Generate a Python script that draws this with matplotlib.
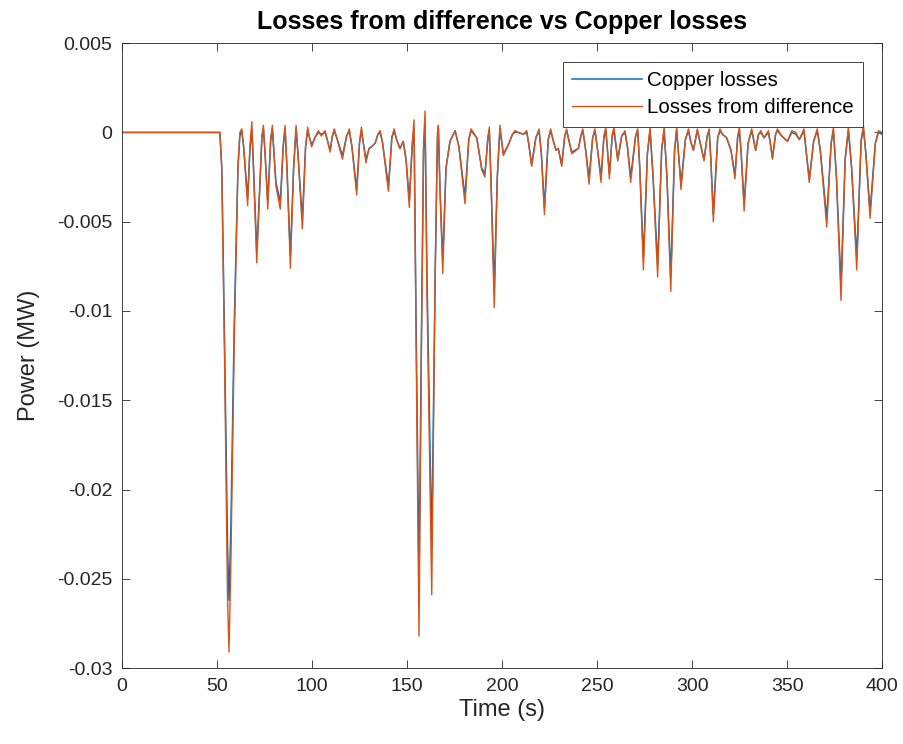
import matplotlib
matplotlib.use("Agg")
import matplotlib.pyplot as plt

plt.rcParams["font.family"] = ["Liberation Sans", "DejaVu Sans"]

# values (time in s, power in MW)
t = [0, 51.5, 52.5, 54.0, 55.5, 56.3,
     57.3, 59.0, 61.0, 62.0, 63.0, 64.0,
     66.1, 67.3, 68.3, 69.2, 70.9, 72.5,
     73.6, 74.4, 75.3, 76.7, 78.2, 79.1,
     80.0, 81.0, 83.3, 84.8, 85.8, 86.8,
     88.6, 90.3, 91.6, 92.6, 94.9, 96.6,
     97.7, 98.7, 99.8, 101.5, 103.3, 104.9,
     106.8, 108.0, 109.5, 110.7, 111.7, 113.0,
     116.0, 118.2, 119.6, 121.0, 123.5, 125.0,
     126.0, 127.0, 128.4, 130.0, 131.4, 133.2,
     134.7, 135.8, 137.0, 140.2, 142.0, 143.2,
     144.5, 146.3, 148.0, 149.5, 151.2, 152.7,
     153.7, 154.7, 156.3, 157.5, 158.7, 159.5,
     160.5, 163.0, 164.8, 166.0, 166.5, 167.3,
     168.8, 170.5, 172.6, 175.3, 177.3, 180.5,
     182.5, 183.7, 186.7, 189.3, 191.0, 192.5,
     193.3, 194.3, 195.9, 197.5, 198.9, 200.7,
     203.3, 205.5, 206.8, 208.5, 211.2, 213.0,
     214.0, 215.6, 217.8, 219.5, 220.7, 222.3,
     224.3, 225.6, 226.8, 228.4, 229.6, 231.4,
     233.0, 234.0, 235.3, 236.7, 240.2, 241.5,
     242.5, 243.8, 245.8, 247.7, 248.9, 250.3,
     252.1, 253.6, 254.6, 255.5, 256.5, 258.0,
     258.9, 260.9, 263.0, 264.7, 266.0, 267.7,
     270.3, 271.4, 272.5, 274.4, 276.5, 277.9,
     279.5, 281.9, 284.0, 285.3, 286.8, 288.8,
     290.8, 291.9, 292.9, 294.2, 296.5, 298.1,
     299.3, 300.7, 302.8, 304.3, 306.3, 308.0,
     309.0, 309.9, 311.2, 313.5, 314.7, 316.0,
     318.2, 320.5, 322.6, 324.0, 324.9, 325.9,
     327.4, 329.5, 331.4, 333.5, 335.0, 336.2,
     337.9, 340.2, 341.2, 342.3, 344.0, 344.9,
     347.2, 350.2, 352.5, 354.6, 356.5, 358.9,
     360.0, 361.7, 364.0, 365.9, 367.5, 370.9,
     373.2, 374.4, 376.0, 378.4, 380.6, 382.3,
     384.0, 386.7, 389.0, 390.2, 391.5, 393.7,
     396.5, 398.1, 400.0]

copper = [0, 0, -0.002, -0.012, -0.023, -0.0262,
          -0.022, -0.011, -0.002, -0.0002, 0.0001, -0.0008,
          -0.0037, -0.0010, 0.0002, -0.0020, -0.0067, -0.0030,
          -0.0003, 0.0002, -0.0012, -0.0039, -0.0005, 0.0002,
          -0.0012, -0.0028, -0.0039, -0.0008, 0.0002, -0.0020,
          -0.0069, -0.0020, 0.0002, -0.0012, -0.0049, -0.0008,
          0.0001, -0.0003, -0.0007, -0.0003, 0.0, -0.0001,
          0.0, -0.0004, -0.0010, -0.0002, 0.0001, -0.0003,
          -0.0013, -0.0002, 0.0001, -0.0008, -0.0032, -0.0006,
          0.0001, -0.0006, -0.0015, -0.0009, -0.0008, -0.0006,
          -0.0001, 0.0, -0.0005, -0.0030, -0.0003, 0.0001,
          -0.0004, -0.0009, -0.0005, -0.0015, -0.0038, -0.0008,
          0.0002, -0.010, -0.0252, -0.012, -0.0010, 0.0004,
          -0.008, -0.0232, -0.008, -0.0004, 0.0002, -0.0030,
          -0.0072, -0.0020, -0.0005, 0.0001, -0.0008, -0.0036,
          -0.0004, 0.0001, -0.0003, -0.0020, -0.0023, -0.0004,
          0.0001, -0.0030, -0.0088, -0.0025, 0.0002, -0.0012,
          -0.0007, -0.0001, 0.0, 0.0, -0.0001, 0.0,
          -0.0006, -0.0018, -0.0003, 0.0001, -0.0012, -0.0042,
          -0.0004, 0.0001, -0.0004, -0.0010, -0.0009, -0.0018,
          -0.0002, 0.0001, -0.0005, -0.0011, -0.0009, -0.0002,
          0.0001, -0.0008, -0.0026, -0.0003, 0.0001, -0.0010,
          -0.0025, -0.0003, 0.0001, -0.0010, -0.0023, -0.0002,
          0.0001, -0.0015, -0.0002, 0.0, -0.0008, -0.0025,
          -0.0002, 0.0001, -0.0020, -0.0070, -0.0012, 0.0001,
          -0.0025, -0.0074, -0.0010, 0.0001, -0.0025, -0.0081,
          -0.0010, 0.0001, -0.0012, -0.0029, -0.0004, 0.0001,
          -0.0005, -0.0010, 0.0001, -0.0006, -0.0015, -0.0002,
          0.0001, -0.0015, -0.0046, -0.0003, 0.0001, -0.0001,
          -0.0003, -0.0010, -0.0024, -0.0003, 0.0001, -0.0012,
          -0.0040, -0.0006, 0.0001, -0.0010, -0.0001, 0.0,
          -0.0003, 0.0, -0.0006, -0.0014, -0.0001, 0.0001,
          -0.0002, -0.0005, 0.0, -0.0001, -0.0004, 0.0001,
          -0.0010, -0.0026, -0.0005, 0.0001, -0.0010, -0.0048,
          -0.0006, 0.0001, -0.0025, -0.0085, -0.0015, 0.0001,
          -0.0020, -0.0070, -0.0005, 0.0002, -0.0012, -0.0044,
          -0.0006, 0.0, -0.0001]

difference = [0, 0, -0.002, -0.013, -0.026, -0.0291,
              -0.024, -0.012, -0.002, 0.0, 0.0002, -0.0008,
              -0.0041, -0.0008, 0.0006, -0.0020, -0.0073, -0.0030,
              -0.0002, 0.0004, -0.0012, -0.0043, -0.0004, 0.0004,
              -0.0012, -0.0030, -0.0043, -0.0008, 0.0004, -0.0020,
              -0.0076, -0.0020, 0.0004, -0.0012, -0.0054, -0.0008,
              0.0003, -0.0003, -0.0008, -0.0003, 0.0001, -0.0002,
              0.0001, -0.0004, -0.0011, -0.0002, 0.0002, -0.0003,
              -0.0015, -0.0002, 0.0002, -0.0008, -0.0035, -0.0005,
              0.0003, -0.0006, -0.0017, -0.0009, -0.0008, -0.0006,
              -0.0001, 0.0001, -0.0005, -0.0033, -0.0003, 0.0002,
              -0.0004, -0.0009, -0.0005, -0.0016, -0.0042, -0.0006,
              0.0007, -0.011, -0.0282, -0.013, -0.0005, 0.0012,
              -0.009, -0.0259, -0.008, 0.0, 0.0004, -0.0030,
              -0.0079, -0.0020, -0.0005, 0.0001, -0.0008, -0.0040,
              -0.0004, 0.0002, -0.0003, -0.0021, -0.0025, -0.0003,
              0.0003, -0.0032, -0.0098, -0.0025, 0.0004, -0.0013,
              -0.0007, -0.0001, 0.0001, 0.0, -0.0001, 0.0001,
              -0.0006, -0.0019, -0.0003, 0.0002, -0.0012, -0.0046,
              -0.0004, 0.0002, -0.0004, -0.0010, -0.0009, -0.0019,
              -0.0002, 0.0002, -0.0005, -0.0012, -0.0009, -0.0002,
              0.0002, -0.0008, -0.0029, -0.0003, 0.0002, -0.0010,
              -0.0028, -0.0002, 0.0003, -0.0010, -0.0026, -0.0001,
              0.0003, -0.0016, -0.0002, 0.0001, -0.0008, -0.0028,
              -0.0002, 0.0002, -0.0020, -0.0077, -0.0012, 0.0003,
              -0.0025, -0.0081, -0.0010, 0.0003, -0.0025, -0.0089,
              -0.0010, 0.0003, -0.0012, -0.0032, -0.0004, 0.0002,
              -0.0005, -0.0010, 0.0002, -0.0006, -0.0016, -0.0002,
              0.0002, -0.0015, -0.0050, -0.0003, 0.0002, -0.0001,
              -0.0003, -0.0010, -0.0026, -0.0002, 0.0003, -0.0012,
              -0.0044, -0.0006, 0.0002, -0.0010, -0.0001, 0.0001,
              -0.0003, 0.0001, -0.0006, -0.0015, -0.0001, 0.0002,
              -0.0002, -0.0005, 0.0001, 0.0, -0.0004, 0.0002,
              -0.0010, -0.0028, -0.0005, 0.0002, -0.0010, -0.0053,
              -0.0006, 0.0003, -0.0025, -0.0094, -0.0015, 0.0003,
              -0.0020, -0.0077, -0.0004, 0.0004, -0.0012, -0.0048,
              -0.0006, 0.0001, 0.0]

yticks = [0.005, 0, -0.005, -0.01, -0.015, -0.02, -0.025, -0.03]
ytick_labels = ["0.005", "0", "-0.005", "-0.01", "-0.015", "-0.02", "-0.025",
                "-0.03"]

fig = plt.figure(figsize=(9.04, 7.44), dpi=100)
ax = fig.add_axes([0.135, 0.102, 0.8407, 0.840])

ax.plot(t, copper, color="#0072BD", lw=1.1, label="Copper losses")
ax.plot(t, difference, color="#D95319", lw=1.0, label="Losses from difference")

ax.set_xlim(0, 400)
ax.set_ylim(-0.03, 0.005)
ax.set_xticks(range(0, 401, 50))
ax.set_yticks(yticks)
ax.set_yticklabels(ytick_labels)

ax.tick_params(direction="in", top=True, right=True, length=6, width=0.6,
               labelsize=14, colors="#262626", pad=7)
for s in ax.spines.values():
    s.set_linewidth(0.6)
    s.set_color("#262626")

ax.set_xlabel("Time (s)", fontsize=17, color="#262626", labelpad=3)
ax.set_ylabel("Power (MW)", fontsize=17, color="#262626", labelpad=12)
ax.set_title("Losses from difference vs Copper losses", fontsize=18,
             fontweight="bold", pad=10)

lgd = ax.legend(loc="upper right", bbox_to_anchor=(0.975, 0.97), fontsize=14.8,
                frameon=True, fancybox=False, framealpha=1, edgecolor="#262626",
                handlelength=3.4, borderpad=0.45, labelspacing=0.4,
                handletextpad=0.25, borderaxespad=0)
lgd.get_frame().set_linewidth(0.6)

fig.savefig("out.png", dpi=100)
